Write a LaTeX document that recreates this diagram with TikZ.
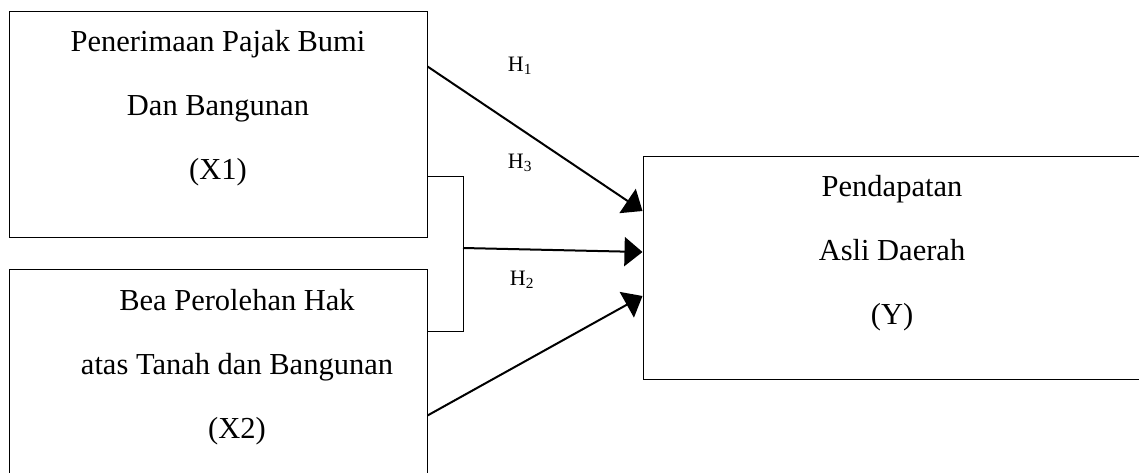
\documentclass[tikz,border=0pt]{standalone}
\usepackage{fontspec}
\setmainfont{Liberation Serif}
\usetikzlibrary{arrows.meta,positioning}

\begin{document}
\begin{tikzpicture}[x=1pt, y=-1pt,
  box/.style={draw, rectangle, line width=1pt, inner sep=0pt},
  txt/.style={align=center, font=\fontsize{30.5}{64}\selectfont},
  hlab/.style={font=\fontsize{22}{24}\selectfont},
  arr/.style={-{Triangle[length=18pt,width=29pt]}, line width=2pt}]
  \path[use as bounding box, clip] (0,0) rectangle (1139,473);
  % Boxes
  \node[box, minimum width=418pt, minimum height=225pt] (x1) at (218,124.5) {};
  \node[box, minimum width=418pt, minimum height=220pt] (x2) at (218,379) {};
  \node[box, minimum width=520pt, minimum height=222pt] (y) at (903,268) {};
  % Texts
  \node[txt] (x1txt) at (218,108) {Penerimaan Pajak Bumi\\Dan Bangunan\\(X1)};
  \node[txt] (x2txt) at (237,367) {Bea Perolehan Hak\\atas Tanah dan Bangunan\\(X2)};
  \node[txt] (ytxt) at (892,253) {Pendapatan\\Asli Daerah\\(Y)};
  % Labels
  \node[hlab] (h1) at (520,66) {H\textsubscript{1}};
  \node[hlab] (h3) at (520,163) {H\textsubscript{3}};
  \node[hlab] (h2) at (522,280) {H\textsubscript{2}};
  % Connections
  \draw[line width=1pt] (x1.south east) ++(0,-61) -- ++(36,0) |- ++(-36,155);
  \coordinate (jn) at (463,248);
  \draw[arr] ([yshift=-55pt]x1.north east) -- ([yshift=57pt]y.west);
  \draw[arr] (jn) -- ([yshift=16pt]y.west);
  \draw[arr] ([yshift=-147pt]x2.north east) -- ([yshift=-28pt]y.west);
\end{tikzpicture}
\end{document}
